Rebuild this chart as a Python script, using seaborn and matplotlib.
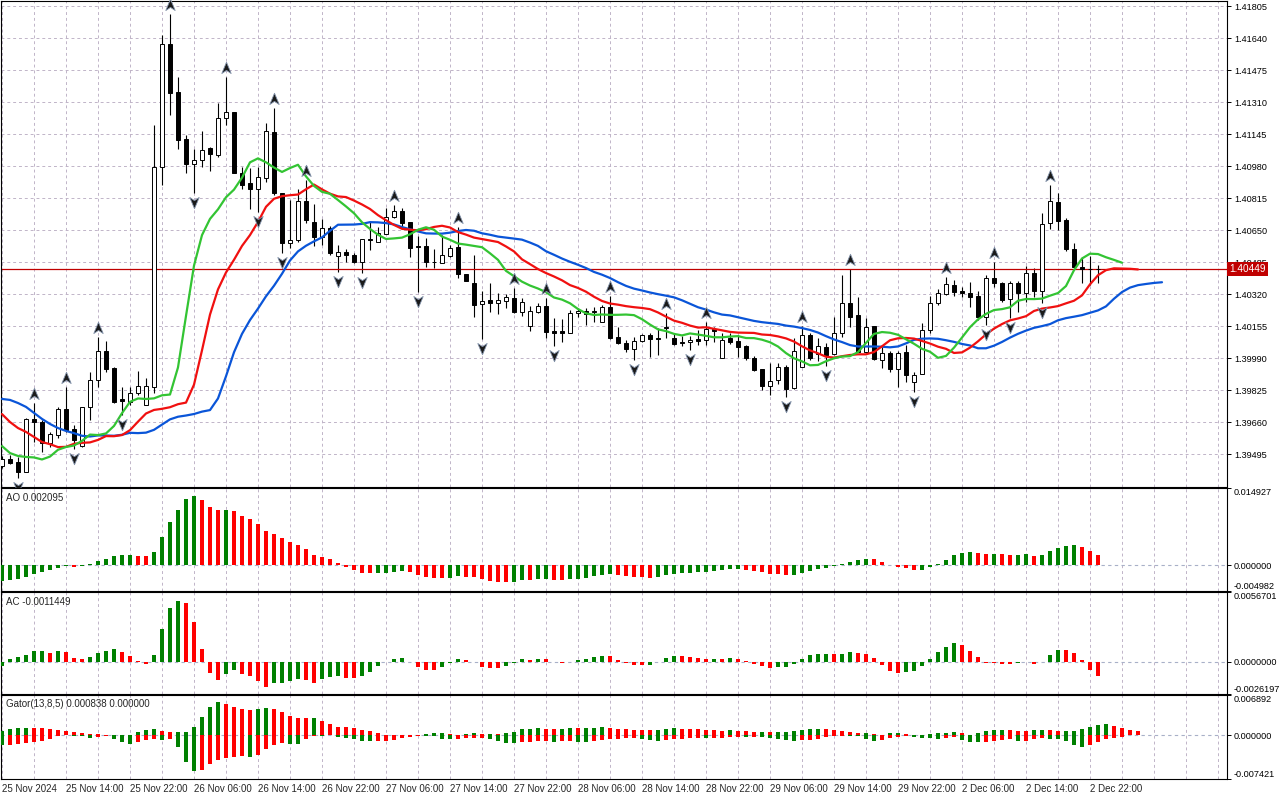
import matplotlib
matplotlib.use("Agg")
import matplotlib.pyplot as plt
import matplotlib.transforms as mtransforms
from matplotlib.path import Path
import numpy as np
import pandas as pd
import seaborn as sns

# H1 candles, 25 Nov 06:00 .. 2 Dec 23:00
opens = [1.39434, 1.39470, 1.39455, 1.39403, 1.39677, 1.39661, 1.39553, 1.39594, 1.39728, 1.39625,
         1.39537, 1.39739, 1.39878, 1.40027, 1.39940, 1.39780, 1.39764, 1.39811, 1.39749, 1.39842,
         1.40976, 1.41610, 1.41363, 1.41120, 1.40991, 1.41012, 1.41074, 1.41038, 1.41229, 1.41260,
         1.40945, 1.40893, 1.40862, 1.40919, 1.41156, 1.40842, 1.40584, 1.40600, 1.40801, 1.40692,
         1.40615, 1.40661, 1.40517, 1.40538, 1.40522, 1.40486, 1.40605, 1.40589, 1.40630, 1.40718,
         1.40749, 1.40692, 1.40569, 1.40569, 1.40486, 1.40481, 1.40517, 1.40564, 1.40424, 1.40378,
         1.40270, 1.40290, 1.40275, 1.40285, 1.40301, 1.40228, 1.40156, 1.40228, 1.40259, 1.40130,
         1.40130, 1.40120, 1.40223, 1.40233, 1.40228, 1.40177, 1.40254, 1.40099, 1.40068, 1.40037,
         1.40079, 1.40110, 1.40094, 1.40146, 1.40094, 1.40074, 1.40074, 1.40089, 1.40084, 1.40141,
         1.39991, 1.40094, 1.40079, 1.40053, 1.39991, 1.39935, 1.39847, 1.39878, 1.39945, 1.39836,
         1.39945, 1.40110, 1.40012, 1.40048, 1.40012, 1.40120, 1.40275, 1.40213, 1.40022, 1.40156,
         1.39981, 1.40017, 1.39935, 1.40022, 1.39867, 1.39909, 1.40136, 1.40275, 1.40321, 1.40368,
         1.40337, 1.40326, 1.40311, 1.40202, 1.40404, 1.40378, 1.40295, 1.40378, 1.40326, 1.40429,
         1.40337, 1.40687, 1.40795, 1.40703, 1.40553, 1.40460, 1.40450, 1.40450]
highs = [1.39486, 1.39491, 1.39481, 1.39682, 1.39759, 1.39672, 1.39610, 1.39739, 1.39842, 1.39646,
         1.39739, 1.39919, 1.40099, 1.40079, 1.39945, 1.39842, 1.39842, 1.39924, 1.39888, 1.41193,
         1.41657, 1.41765, 1.41440, 1.41141, 1.41069, 1.41162, 1.41079, 1.41306, 1.41440, 1.41260,
         1.40976, 1.40971, 1.40976, 1.41203, 1.41280, 1.40842, 1.40806, 1.40862, 1.40909, 1.40785,
         1.40708, 1.40672, 1.40574, 1.40553, 1.40533, 1.40605, 1.40692, 1.40667, 1.40765, 1.40780,
         1.40765, 1.40692, 1.40620, 1.40610, 1.40553, 1.40625, 1.40574, 1.40667, 1.40424, 1.40522,
         1.40337, 1.40378, 1.40326, 1.40321, 1.40352, 1.40301, 1.40259, 1.40275, 1.40301, 1.40197,
         1.40192, 1.40239, 1.40249, 1.40249, 1.40254, 1.40264, 1.40311, 1.40151, 1.40084, 1.40099,
         1.40115, 1.40120, 1.40146, 1.40223, 1.40120, 1.40105, 1.40105, 1.40136, 1.40177, 1.40151,
         1.40120, 1.40120, 1.40110, 1.40058, 1.40001, 1.39935, 1.39965, 1.39965, 1.39955, 1.40094,
         1.40156, 1.40120, 1.40094, 1.40068, 1.40202, 1.40419, 1.40450, 1.40306, 1.40197, 1.40156,
         1.40048, 1.40027, 1.40027, 1.40058, 1.39919, 1.40172, 1.40311, 1.40347, 1.40409, 1.40393,
         1.40357, 1.40383, 1.40337, 1.40419, 1.40486, 1.40383, 1.40388, 1.40388, 1.40466, 1.40455,
         1.40739, 1.40883, 1.40842, 1.40713, 1.40584, 1.40512, 1.40517, 1.40471]
lows = [1.39424, 1.39445, 1.39372, 1.39403, 1.39558, 1.39506, 1.39532, 1.39579, 1.39610, 1.39522,
        1.39532, 1.39672, 1.39842, 1.39919, 1.39759, 1.39697, 1.39749, 1.39800, 1.39749, 1.39811,
        1.40883, 1.41244, 1.41069, 1.40945, 1.40842, 1.40976, 1.40955, 1.41028, 1.41193, 1.40945,
        1.40862, 1.40759, 1.40744, 1.40899, 1.40831, 1.40533, 1.40558, 1.40589, 1.40687, 1.40569,
        1.40574, 1.40522, 1.40435, 1.40486, 1.40481, 1.40429, 1.40548, 1.40589, 1.40630, 1.40713,
        1.40667, 1.40512, 1.40331, 1.40460, 1.40455, 1.40481, 1.40512, 1.40404, 1.40388, 1.40202,
        1.40089, 1.40228, 1.40218, 1.40249, 1.40223, 1.40207, 1.40130, 1.40223, 1.40094, 1.40053,
        1.40074, 1.40120, 1.40202, 1.40161, 1.40177, 1.40177, 1.40089, 1.40063, 1.40022, 1.39981,
        1.40074, 1.39996, 1.40006, 1.40094, 1.40058, 1.40053, 1.40032, 1.40058, 1.40058, 1.40074,
        1.39991, 1.40063, 1.39996, 1.39981, 1.39924, 1.39826, 1.39800, 1.39857, 1.39790, 1.39831,
        1.39945, 1.39981, 1.39976, 1.39950, 1.40006, 1.40099, 1.40151, 1.40022, 1.40017, 1.39981,
        1.39940, 1.39919, 1.39842, 1.39867, 1.39816, 1.39909, 1.40120, 1.40264, 1.40316, 1.40311,
        1.40306, 1.40254, 1.40187, 1.40161, 1.40357, 1.40280, 1.40197, 1.40228, 1.40280, 1.40306,
        1.40275, 1.40656, 1.40651, 1.40543, 1.40455, 1.40378, 1.40368, 1.40378]
closes = [1.39470, 1.39450, 1.39403, 1.39677, 1.39661, 1.39553, 1.39599, 1.39728, 1.39620, 1.39568,
          1.39739, 1.39878, 1.40027, 1.39935, 1.39764, 1.39769, 1.39811, 1.39847, 1.39847, 1.40976,
          1.41610, 1.41358, 1.41115, 1.40991, 1.41012, 1.41064, 1.41043, 1.41229, 1.41260, 1.40945,
          1.40883, 1.40862, 1.40924, 1.41162, 1.40842, 1.40584, 1.40600, 1.40801, 1.40703, 1.40615,
          1.40661, 1.40533, 1.40538, 1.40522, 1.40486, 1.40605, 1.40600, 1.40636, 1.40718, 1.40749,
          1.40687, 1.40558, 1.40564, 1.40486, 1.40486, 1.40522, 1.40558, 1.40424, 1.40388, 1.40264,
          1.40285, 1.40275, 1.40290, 1.40306, 1.40228, 1.40280, 1.40233, 1.40259, 1.40125, 1.40120,
          1.40120, 1.40223, 1.40233, 1.40218, 1.40233, 1.40254, 1.40094, 1.40068, 1.40037, 1.40079,
          1.40110, 1.40089, 1.40089, 1.40151, 1.40063, 1.40068, 1.40084, 1.40079, 1.40141, 1.40130,
          1.40084, 1.40074, 1.40048, 1.39991, 1.39929, 1.39847, 1.39873, 1.39945, 1.39831, 1.40027,
          1.40110, 1.39991, 1.40053, 1.40006, 1.40120, 1.40275, 1.40202, 1.40022, 1.40151, 1.39986,
          1.40017, 1.39935, 1.40017, 1.39904, 1.39904, 1.40136, 1.40275, 1.40326, 1.40373, 1.40331,
          1.40326, 1.40306, 1.40202, 1.40404, 1.40378, 1.40290, 1.40378, 1.40326, 1.40429, 1.40337,
          1.40682, 1.40801, 1.40697, 1.40553, 1.40460, 1.40450, 1.40450, 1.40449]

x_labels = ["25 Nov 2024", "25 Nov 14:00", "25 Nov 22:00", "26 Nov 06:00", "26 Nov 14:00",
            "26 Nov 22:00", "27 Nov 06:00", "27 Nov 14:00", "27 Nov 22:00", "28 Nov 06:00",
            "28 Nov 14:00", "28 Nov 22:00", "29 Nov 06:00", "29 Nov 14:00", "29 Nov 22:00",
            "2 Dec 06:00", "2 Dec 14:00", "2 Dec 22:00"]
price_ticks = [1.41805, 1.41640, 1.41475, 1.41310, 1.41145, 1.40980, 1.40815, 1.40650,
               1.40485, 1.40320, 1.40155, 1.39990, 1.39825, 1.39660, 1.39495]
last_price = 1.40449

# indicator values on the left edge, where the lookback lies before the first bar
jaw_head = [1.39780, 1.39775, 1.39759, 1.39739, 1.39708, 1.39677, 1.39651, 1.39630, 1.39615]
teeth_head = [1.39702, 1.39661, 1.39630, 1.39610, 1.39584, 1.39558]
lips_head = [1.39537, 1.39501, 1.39486, 1.39481]
ao_head = [-0.00306, -0.00286, -0.0026, -0.00221, -0.00163, -0.00124, -0.00098, -0.00046, -0.0001,
           -0.0003, -0.0002, 0.00026, 0.00085, 0.00124, 0.00182, 0.00202, 0.00205, 0.00182, 0.00169,
           0.0026, 0.0054, 0.00833, 0.01068, 0.01276, 0.01335, 0.01256, 0.0112, 0.0106, 0.01065,
           0.0104, 0.0095, 0.00885, 0.00788]
ac_head = [-0.00038, 0.00019, 0.00041, 0.00057]

up_fractals = [4, 8, 12, 21, 28, 34, 38, 49, 57, 64, 68, 76, 83, 88, 100, 106, 118, 124, 131]
down_fractals = [2, 9, 15, 24, 32, 35, 42, 45, 52, 60, 69, 79, 86, 98, 103, 114, 123, 126, 130]

ao_ticks = [0.014927, 0.0, -0.004982]
ac_ticks = [0.0056701, 0.0, -0.0026197]
gator_ticks = [0.006892, 0.0, -0.007421]

GREEN = "#008000"
RED = "#ff0000"
GRID = "#c0b4c8"

n = len(closes)
bars = np.arange(n)
o = np.array(opens)
c = np.array(closes)
h = np.array(highs)
l = np.array(lows)
median = (h + l) / 2


def alligator(head, period, shift):
    vals = list(head)
    k = len(vals)
    while k < n + shift:
        vals.append((vals[-1] * (period - 1) + median[k - shift]) / period)
        k += 1
    return np.array(vals)


jaw = alligator(jaw_head, 13, 8)
teeth = alligator(teeth_head, 8, 5)
lips = alligator(lips_head, 5, 3)

med = pd.Series(median)
ao_calc = (med.rolling(5).mean() - med.rolling(34).mean()).values
ao = np.concatenate([ao_head, ao_calc[len(ao_head):]])
ac_calc = ao - pd.Series(ao).rolling(5).mean().values
ac = np.concatenate([ac_head, ac_calc[len(ac_head):]])

gator_up = np.abs(jaw[:len(teeth)] - teeth)
gator_dn = -np.abs(teeth[:len(lips)] - lips)


def rising_colors(values, use_abs=False):
    v = np.abs(values) if use_abs else np.asarray(values)
    cols = []
    last = GREEN
    for i in range(len(v)):
        if i > 0:
            if v[i] > v[i - 1]:
                last = GREEN
            elif v[i] < v[i - 1]:
                last = RED
        cols.append(last)
    return cols


sns.set_style("white")
plt.rcParams["font.family"] = ["Liberation Sans", "DejaVu Sans"]
plt.rcParams["axes.linewidth"] = 0.8

W, H = 1280, 800
YLAB = 6.6


def px_rect(x0, y0, x1, y1):
    return [x0 / W, 1 - y1 / H, (x1 - x0) / W, (y1 - y0) / H]


fig = plt.figure(figsize=(12.8, 8), dpi=100)
fig.patch.set_facecolor("white")
ax_main = fig.add_axes(px_rect(1, 1, 1227, 487))
ax_ao = fig.add_axes(px_rect(1, 488, 1227, 591))
ax_ac = fig.add_axes(px_rect(1, 592, 1227, 694))
ax_gt = fig.add_axes(px_rect(1, 695, 1227, 779))
axes = [ax_main, ax_ao, ax_ac, ax_gt]

for ax in axes:
    ax.set_facecolor("white")
    ax.set_xlim(-0.125, 153.125)
    for sp in ax.spines.values():
        sp.set_color("black")
        sp.set_linewidth(0.8)
    ax.set_xticks(np.arange(0, 153, 8))
    ax.set_xticks(np.arange(0, 153, 4), minor=True)
    ax.grid(True, axis="x", which="both", color=GRID, ls=(0, (3, 3)), lw=0.7)
    ax.tick_params(axis="x", which="minor", length=0)
    ax.yaxis.tick_right()
    ax.tick_params(axis="y", which="major", direction="out", length=3, width=0.7,
                   labelsize=YLAB, pad=2, colors="black")
    ax.set_axisbelow(True)
    if ax is not ax_gt:
        ax.tick_params(axis="x", which="major", length=0, labelbottom=False)

# --- main chart: candles
ax_main.set_ylim(1.39326, 1.41832)
ax_main.set_yticks(price_ticks)
ax_main.set_yticklabels([f"{p:.5f}" for p in price_ticks])
ax_main.grid(True, axis="y", color=GRID, ls=(0, (3, 3)), lw=0.7)

ax_main.vlines(bars, l, h, color="black", lw=0.8, zorder=2)
bull = c >= o
body_bottom = np.minimum(o, c)
body_height = np.maximum(np.abs(c - o), 0.00001)
ax_main.bar(bars, body_height, bottom=body_bottom, width=0.62,
            color=np.where(bull, "white", "black"), edgecolor="black", linewidth=0.7, zorder=3)

ax_main.axhline(last_price, color="#c00000", lw=0.9, zorder=2)

lines_df = pd.concat([
    pd.DataFrame({"bar": np.arange(len(jaw)), "value": jaw, "line": "Jaw"}),
    pd.DataFrame({"bar": np.arange(len(teeth)), "value": teeth, "line": "Teeth"}),
    pd.DataFrame({"bar": np.arange(len(lips)), "value": lips, "line": "Lips"}),
], ignore_index=True)
sns.lineplot(data=lines_df, x="bar", y="value", hue="line", estimator=None,
             palette={"Jaw": "#0a55d8", "Teeth": "#f01010", "Lips": "#33c433"},
             lw=1.6, legend=False, ax=ax_main, zorder=4)
ax_main.set_xlabel("")
ax_main.set_ylabel("")

up_marker = Path([(0, 1), (0.75, -0.8), (0, -0.3), (-0.75, -0.8), (0, 1)],
                 [Path.MOVETO, Path.LINETO, Path.LINETO, Path.LINETO, Path.CLOSEPOLY])
down_marker = Path([(0, -1), (0.75, 0.8), (0, 0.3), (-0.75, 0.8), (0, -1)],
                   [Path.MOVETO, Path.LINETO, Path.LINETO, Path.LINETO, Path.CLOSEPOLY])
up_tr = mtransforms.offset_copy(ax_main.transData, fig=fig, y=9, units="dots")
dn_tr = mtransforms.offset_copy(ax_main.transData, fig=fig, y=-9, units="dots")
ax_main.plot(up_fractals, h[up_fractals], ls="none", marker=up_marker, ms=9,
             mfc="#1a1a1a", mec="#8090a8", mew=0.6, transform=up_tr, zorder=5, clip_on=False)
ax_main.plot(down_fractals, l[down_fractals], ls="none", marker=down_marker, ms=9,
             mfc="#1a1a1a", mec="#8090a8", mew=0.6, transform=dn_tr, zorder=5)

blend = mtransforms.blended_transform_factory(ax_main.transAxes, ax_main.transData)
ax_main.text(1.0018, last_price, f"{last_price:.5f}", transform=blend, color="white",
             fontsize=7.2, va="center", ha="left", zorder=6,
             bbox=dict(boxstyle="square,pad=0.2", fc="#c00000", ec="none"))

# --- sub windows
def sub_panel(ax, values, colors, ticks, fmt, title):
    ax.set_ylim(ticks[2], ticks[0])
    ax.bar(np.arange(len(values)), values, width=0.58, color=colors, linewidth=0, zorder=3)
    ax.axhline(0, color="#a8b0c8", ls=(0, (3, 3)), lw=0.8, zorder=2)
    ax.set_yticks(ticks)
    labels = ax.set_yticklabels([fmt.format(t) for t in ticks])
    labels[0].set_va("top")
    labels[2].set_va("bottom")
    ax.text(0.004, 0.95, title, transform=ax.transAxes, fontsize=7, va="top", ha="left")


sub_panel(ax_ao, ao, rising_colors(ao), ao_ticks, "{:.6f}", "AO 0.002095")
sub_panel(ax_ac, ac, rising_colors(ac), ac_ticks, "{:.7f}", "AC -0.0011449")
sub_panel(ax_gt, gator_up, rising_colors(gator_up, True), gator_ticks, "{:.6f}",
          "Gator(13,8,5) 0.000838 0.000000")
ax_gt.bar(np.arange(len(gator_dn)), gator_dn, width=0.58,
          color=rising_colors(gator_dn, True), linewidth=0, zorder=3)

tick_names = x_labels + [""] * (len(np.arange(0, 153, 8)) - len(x_labels))
ax_gt.set_xticklabels(tick_names)
ax_gt.tick_params(axis="x", which="major", direction="out", length=3, width=0.8,
                  labelsize=7, pad=0.3)
for lab in ax_gt.get_xticklabels():
    lab.set_ha("left")

fig.savefig("out.png", dpi=100)
